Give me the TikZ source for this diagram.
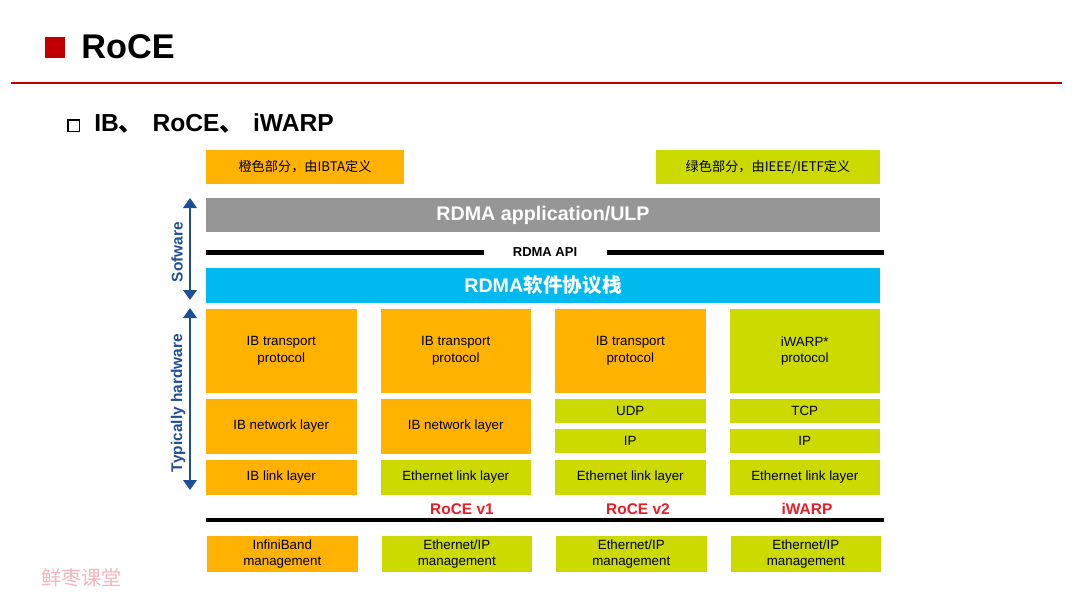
\documentclass[tikz,border=0pt]{standalone}
\usepackage{fontspec}
\setmainfont{Liberation Sans}
\newfontfamily\cjk{Noto Sans CJK SC}
\usetikzlibrary{positioning,arrows.meta}
\definecolor{ibta}{HTML}{FFB300}
\definecolor{ietf}{HTML}{CCDA00}
\definecolor{ulp}{HTML}{969696}
\definecolor{stack}{HTML}{00B9EF}
\definecolor{layer}{HTML}{1F4E98}
\definecolor{slide}{HTML}{C00000}
\definecolor{flavor}{HTML}{EC1C24}
\definecolor{wmark}{HTML}{F6B4BC}

\begin{document}
\begin{tikzpicture}[x=0.2mm, y=0.2mm,
  blk/.style={inner sep=0pt, outer sep=0pt, align=center, minimum width=30.1mm, font=\fontsize{7.6}{9.5}\selectfont},
  ib/.style={blk, fill=ibta},
  eth/.style={blk, fill=ietf},
  bar/.style={inner sep=0pt, outer sep=0pt, minimum width=134.8mm, text=white, font=\fontsize{11.2}{13}\selectfont\bfseries},
  tag/.style={text=flavor, font=\fontsize{8.8}{10}\selectfont\bfseries},
  span/.style={{Triangle[width=2.7mm,length=2mm]}-{Triangle[width=2.7mm,length=2mm]}, draw=layer, line width=1.3pt},
  axislabel/.style={rotate=90, text=layer, font=\fontsize{8.8}{10}\selectfont\bfseries},
  apiline/.style={line width=0.85mm},
  txt/.style={inner sep=0pt},
]
\useasboundingbox (0,0) rectangle (1080,-608);

\node[fill=slide, minimum width=4mm, minimum height=4.2mm, inner sep=0pt, anchor=north west] (sq) at (45,-37) {};
\node[txt, anchor=base west, font=\fontsize{19.5}{22}\selectfont\bfseries] (title) at (81,-58) {RoCE};
\coordinate (hl) at (11,-83);
\coordinate (hr) at (1062,-83);
\draw[slide, line width=0.9pt] (hl) -- (hr);
\node[draw, line width=1.1pt, minimum size=2.3mm, inner sep=0pt, anchor=north west] (bul) at (67,-119) {};
\node[txt, anchor=base west, font=\fontsize{14}{16}\selectfont\bfseries] (sub) at (94,-131) {IB{\cjk 、}\hspace{1.8mm}RoCE{\cjk 、}\hspace{1.8mm}iWARP};

\node[blk, fill=ibta, minimum width=39.6mm, minimum height=6.8mm, anchor=north west, font=\cjk\fontsize{7.5}{9}\selectfont] (ibta) at (206,-150) {橙色部分，由IBTA定义};
\node[blk, fill=ietf, minimum width=44.8mm, minimum height=6.8mm, anchor=north east, font=\cjk\fontsize{7.5}{9}\selectfont] (ietf) at (880,-150) {绿色部分，由IEEE/IETF定义};

\node[bar, fill=ulp, minimum height=6.8mm, anchor=north west] (app) at (206,-198) {RDMA application/ULP};
\node[font=\fontsize{7.4}{9}\selectfont\bfseries, inner xsep=5.8mm] (api) at (545,-252.5) {RDMA API};
\coordinate (apil) at (206,-252.5);
\coordinate (apir) at (884,-252.5);
\draw[apiline] (apil) -- (api);
\draw[apiline] (api) -- (apir);
\node[bar, fill=stack, minimum height=7mm, anchor=north west] (rdma) at (206,-268) {RDMA{\cjk 软件协议栈}};

\node[ib, minimum height=16.8mm, anchor=north west] (tp1) at (206,-309) {IB transport\\protocol};
\node[ib, minimum height=16.8mm, right=4.8mm of tp1] (tp2) {IB transport\\protocol};
\node[ib, minimum height=16.8mm, right=4.8mm of tp2] (tp3) {IB transport\\protocol};
\node[eth, minimum height=16.8mm, right=4.8mm of tp3] (tp4) {iWARP*\\protocol};

\node[ib, minimum height=11mm, below=1.2mm of tp1] (nw1) {IB network layer};
\node[ib, minimum height=11mm, below=1.2mm of tp2] (nw2) {IB network layer};
\node[eth, minimum height=4.8mm, below=1.2mm of tp3] (udp) {UDP};
\node[eth, minimum height=4.8mm, below=1.2mm of udp] (ip3) {IP};
\node[eth, minimum height=4.8mm, below=1.2mm of tp4] (tcp) {TCP};
\node[eth, minimum height=4.8mm, below=1.2mm of tcp] (ip4) {IP};

\node[ib, minimum height=7mm, below=1.2mm of nw1] (lk1) {IB link layer};
\node[eth, minimum height=7mm, right=4.8mm of lk1] (lk2) {Ethernet link layer};
\node[eth, minimum height=7mm, right=4.8mm of lk2] (lk3) {Ethernet link layer};
\node[eth, minimum height=7mm, right=4.8mm of lk3] (lk4) {Ethernet link layer};

\node[tag] (v1) at (462,-509) {RoCE v1};
\node[tag] (v2) at (638,-509) {RoCE v2};
\node[tag] (iw) at (807,-509) {iWARP};
\coordinate (basel) at (206,-520);
\coordinate (baser) at (884,-520);
\draw[apiline] (basel) -- (baser);

\node[ib, minimum height=7.2mm, anchor=north west] (mg1) at (207,-536) {InfiniBand\\management};
\node[eth, minimum height=7.2mm, right=4.8mm of mg1] (mg2) {Ethernet/IP\\management};
\node[eth, minimum height=7.2mm, right=4.8mm of mg2] (mg3) {Ethernet/IP\\management};
\node[eth, minimum height=7.2mm, right=4.8mm of mg3] (mg4) {Ethernet/IP\\management};

\coordinate (swt) at (190,-198);
\coordinate (swb) at (190,-300);
\coordinate (hwt) at (190,-308);
\coordinate (hwb) at (190,-490);
\draw[span] (swt) -- (swb);
\draw[span] (hwt) -- (hwb);
\node[axislabel] (swl) at (177,-252) {Sofware};
\node[axislabel] (hwl) at (178,-403) {Typically hardware};

\node[txt, anchor=west, text=wmark, font=\cjk\fontsize{11.5}{13}\selectfont] (wm) at (41,-578) {鲜枣课堂};
\end{tikzpicture}
\end{document}
